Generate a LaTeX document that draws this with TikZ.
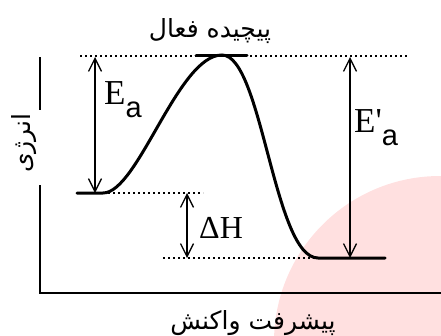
\documentclass[tikz,border=0pt]{standalone}
\usepackage{fontspec}
\setmainfont{Liberation Serif}
\newfontfamily\subfont{Liberation Sans}
\newfontfamily\arabicfont[Script=Arabic]{DejaVu Sans}
\TeXXeTstate=1
\usetikzlibrary{arrows.meta, positioning, calc}

\begin{document}
\begin{tikzpicture}[x=1pt, y=-1pt, >={Straight Barb[length=13pt, width=13pt]}]
        \tikzset{
            axisline/.style={line width=2.4pt},
            pathline/.style={line width=3pt, line cap=round},
            levelline/.style={line width=2pt, dash pattern=on 2pt off 3pt},
            energyarrow/.style={<->, line width=1.3pt},
            latinlabel/.style={font=\fontsize{35}{40}\selectfont, inner sep=0pt, anchor=base west},
            faslabel/.style={font=\fontsize{25}{29}\selectfont\arabicfont, inner sep=0pt}
        }
        \newcommand{\lowsub}[1]{\raisebox{-13pt}{\fontsize{29}{30}\selectfont\subfont #1}}

        \useasboundingbox (0,0) rectangle (441,335);
        \clip (0,0) rectangle (441,335);
        \fill [red!12] (440,342) circle [radius=166];

        \coordinate (origin) at (40,293);
        \coordinate (ytop) at (40,57);
        \coordinate (ygapa) at (40,110);
        \coordinate (ygapb) at (40,185);
        \coordinate (xend) at (443,293);

        \coordinate (reactl) at (77,193);
        \coordinate (reactr) at (103,193);
        \coordinate (peakl) at (196,55);
        \coordinate (peak) at (222,55);
        \coordinate (peakr) at (247,55);
        \coordinate (prodl) at (318,258);
        \coordinate (prodr) at (385,258);

        \coordinate (topl) at (80,56);
        \coordinate (topr) at (408,56);
        \coordinate (midr) at (203,193);
        \coordinate (lowl) at (163,258);

        \coordinate (eatop) at (95,57);
        \coordinate (eabot) at (95,193);
        \coordinate (ebtop) at (350,57);
        \coordinate (ebbot) at (350,258);
        \coordinate (dhtop) at (187,193);
        \coordinate (dhbot) at (187,258);

        \draw [axisline] (ytop) -- (ygapa);
        \draw [axisline] (ygapb) -- (origin) -- (xend);

        \draw [levelline] (topl) -- (topr);
        \draw [levelline] (reactr) -- (midr);
        \draw [levelline] (lowl) -- (prodl);

        \draw [pathline] (reactl) -- (reactr) .. controls (138,193) and (178,55) .. (peak) .. controls (262,55) and (274,258) .. (prodl) -- (prodr);
        \draw [pathline] (peakl) -- (peakr);

        \draw [energyarrow] (eatop) -- (eabot);
        \draw [energyarrow] (ebtop) -- (ebbot);
        \draw [energyarrow] (dhtop) -- (dhbot);

        \node [latinlabel] (ea) at (104,104) {E\lowsub{a}};
        \node [latinlabel] (eb) at (354,132) {E\textquotesingle\lowsub{a}};
        \node [latinlabel, font=\fontsize{32}{36}\selectfont] (dh) at (199,238) {ΔH};

        \node [faslabel] (complex) at (210,31) {\beginR پیچیده فعال\endR};
        \node [faslabel] (progress) at (253,323) {\beginR پیشرفت واکنش\endR};
        \node [faslabel, rotate=90] (energy) at (24,143) {\beginR انرژی\endR};
    \end{tikzpicture}
\end{document}
